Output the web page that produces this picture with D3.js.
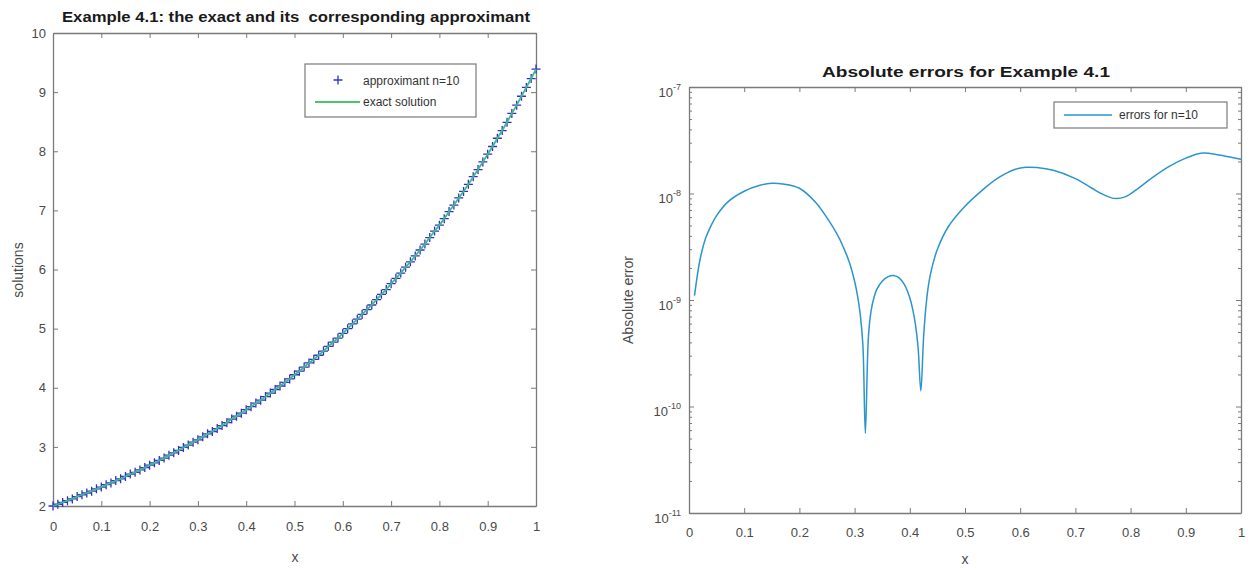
<!DOCTYPE html>
<html>
<head>
<meta charset="utf-8">
<script src="https://cdn.jsdelivr.net/npm/d3@7"></script>
<style>
body { margin: 0; background: #fff; }
svg { font-family: "Liberation Sans", Arial, sans-serif; }
.tick text { fill: #4a4a4a; font-size: 13px; }
.tick line { stroke: #7a7a7a; }
.domain { stroke: #7a7a7a; stroke-width: 1.3; }
.title { font-weight: bold; font-size: 14px; fill: #1a1a1a; white-space: pre; }
.alabel { fill: #4a4a4a; font-size: 14px; }
.leg { fill: #333; font-size: 12px; }
</style>
</head>
<body>
<svg id="chart" width="1252" height="570"></svg>
<script>
// ---- data ----
// left panel: x grid and solution values (approximant and exact coincide)
const solX = [0,0.01,0.02,0.03,0.04,0.05,0.06,0.07,0.08,0.09,0.1,0.11,0.12,0.13,0.14,0.15,0.16,0.17,0.18,0.19,
  0.2,0.21,0.22,0.23,0.24,0.25,0.26,0.27,0.28,0.29,0.3,0.31,0.32,0.33,0.34,0.35,0.36,0.37,0.38,0.39,
  0.4,0.41,0.42,0.43,0.44,0.45,0.46,0.47,0.48,0.49,0.5,0.51,0.52,0.53,0.54,0.55,0.56,0.57,0.58,0.59,
  0.6,0.61,0.62,0.63,0.64,0.65,0.66,0.67,0.68,0.69,0.7,0.71,0.72,0.73,0.74,0.75,0.76,0.77,0.78,0.79,
  0.8,0.81,0.82,0.83,0.84,0.85,0.86,0.87,0.88,0.89,0.9,0.91,0.92,0.93,0.94,0.95,0.96,0.97,0.98,0.99,1];
const solY = [2.00,2.03,2.06,2.09,2.12,2.16,2.19,2.22,2.25,2.29,2.32,2.36,2.39,2.43,2.46,2.50,2.54,2.57,2.61,2.65,
  2.69,2.73,2.77,2.81,2.86,2.90,2.94,2.99,3.03,3.08,3.12,3.17,3.22,3.26,3.31,3.36,3.41,3.47,3.52,3.57,
  3.63,3.68,3.74,3.79,3.85,3.91,3.97,4.03,4.09,4.15,4.22,4.28,4.35,4.42,4.48,4.55,4.62,4.70,4.77,4.84,
  4.92,5.00,5.08,5.16,5.24,5.32,5.40,5.49,5.58,5.66,5.76,5.85,5.94,6.04,6.13,6.23,6.33,6.43,6.54,6.65,
  6.75,6.86,6.98,7.09,7.21,7.32,7.44,7.57,7.69,7.82,7.95,8.08,8.22,8.35,8.49,8.64,8.78,8.93,9.08,9.23,9.39];

// right panel: absolute errors for n=10
const errX = [0.01,0.02,0.03,0.04,0.05,0.07,0.10,0.13,0.15,0.17,0.20,0.23,0.25,0.27,0.28,0.29,0.30,0.305,0.31,0.315,
  0.3195,0.325,0.33,0.335,0.34,0.35,0.36,0.37,0.38,0.39,0.40,0.405,0.41,0.415,0.42,0.425,0.43,0.435,0.44,0.45,
  0.47,0.50,0.53,0.56,0.59,0.61,0.63,0.66,0.70,0.73,0.75,0.77,0.79,0.81,0.84,0.87,0.90,0.93,0.96,0.98,1.00];
const errY = [1.1e-9,2.4e-9,3.8e-9,5.0e-9,6.2e-9,8.3e-9,1.05e-8,1.2e-8,1.25e-8,1.23e-8,1.12e-8,8.2e-9,5.9e-9,4.0e-9,3.1e-9,2.3e-9,1.5e-9,1.12e-9,7.5e-10,3.8e-10,
  5.6e-11,4.5e-10,8.0e-10,1.05e-9,1.25e-9,1.5e-9,1.65e-9,1.7e-9,1.62e-9,1.4e-9,1.05e-9,8.3e-10,6.0e-10,3.6e-10,1.4e-10,4.5e-10,9.5e-10,1.5e-9,2.0e-9,3.0e-9,
  4.9e-9,7.6e-9,1.06e-8,1.4e-8,1.68e-8,1.76e-8,1.75e-8,1.65e-8,1.38e-8,1.12e-8,9.8e-9,9.0e-9,9.3e-9,1.08e-8,1.42e-8,1.8e-8,2.15e-8,2.4e-8,2.3e-8,2.2e-8,2.1e-8];

// tick labels
const xTicks = [0,0.1,0.2,0.3,0.4,0.5,0.6,0.7,0.8,0.9,1];
const solTicks = [2,3,4,5,6,7,8,9,10];
const errTicks = [1e-11,1e-10,1e-9,1e-8,1e-7];

const svg = d3.select("#chart");

// ================= left panel =================
const xL = d3.scaleLinear().domain([0, 1]).range([53, 536]);
const yL = d3.scaleLinear().domain([2, 10]).range([506, 33]);

const gL = svg.append("g");

gL.append("g")
    .attr("transform", `translate(0,${yL(2)})`)
    .call(d3.axisBottom(xL).tickValues(xTicks).tickFormat(d => d)
        .tickSizeInner(-5).tickSizeOuter(0).tickPadding(16));
gL.append("g")
    .attr("transform", `translate(0,${yL(10)})`)
    .call(d3.axisTop(xL).tickValues(xTicks).tickFormat("")
        .tickSizeInner(-5).tickSizeOuter(0));
gL.append("g")
    .attr("transform", `translate(${xL(0)},0)`)
    .call(d3.axisLeft(yL).tickValues(solTicks)
        .tickSizeInner(-5).tickSizeOuter(0).tickPadding(7));
gL.append("g")
    .attr("transform", `translate(${xL(1)},0)`)
    .call(d3.axisRight(yL).tickValues(solTicks).tickFormat("")
        .tickSizeInner(-5).tickSizeOuter(0));

const sol = solX.map((x, i) => ({x: x, y: solY[i]}));

// approximant markers
gL.append("g").selectAll("path")
    .data(sol)
    .join("path")
    .attr("transform", d => `translate(${xL(d.x)},${yL(d.y)})`)
    .attr("d", "M-4.5,0H4.5M0,-4.5V4.5")
    .attr("stroke", "#3030c4")
    .attr("stroke-width", 1.3)
    .attr("fill", "none");

// exact solution line
gL.append("path")
    .datum(sol)
    .attr("fill", "none")
    .attr("stroke", "#3fb98a")
    .attr("stroke-width", 1.8)
    .attr("d", d3.line().x(d => xL(d.x)).y(d => yL(d.y)));

gL.append("text")
    .attr("class", "title")
    .attr("x", 296).attr("y", 22)
    .attr("text-anchor", "middle")
    .attr("textLength", 468)
    .attr("lengthAdjust", "spacingAndGlyphs")
    .text("Example 4.1: the exact and its  corresponding approximant");

gL.append("text")
    .attr("class", "alabel")
    .attr("text-anchor", "middle")
    .attr("transform", "translate(23,270) rotate(-90)")
    .text("solutions");

gL.append("text")
    .attr("class", "alabel")
    .attr("x", 295).attr("y", 562)
    .attr("text-anchor", "middle")
    .text("x");

// legend
const legL = gL.append("g");
legL.append("rect")
    .attr("x", 305).attr("y", 64).attr("width", 171).attr("height", 53)
    .attr("fill", "#fff").attr("stroke", "#7a7a7a").attr("stroke-width", 1.2);
legL.append("path")
    .attr("transform", "translate(338,80)")
    .attr("d", "M-4.5,0H4.5M0,-4.5V4.5")
    .attr("stroke", "#3030c4").attr("stroke-width", 1.3);
legL.append("text").attr("class", "leg").attr("x", 363).attr("y", 85).text("approximant n=10");
legL.append("line")
    .attr("x1", 315).attr("x2", 360).attr("y1", 102).attr("y2", 102)
    .attr("stroke", "#4fc46a").attr("stroke-width", 2);
legL.append("text").attr("class", "leg").attr("x", 363).attr("y", 106).text("exact solution");

// ================= right panel =================
const xR = d3.scaleLinear().domain([0, 1]).range([689, 1241]);
const yR = d3.scaleLog().domain([1e-11, 1e-7]).range([513, 87]);

const gR = svg.append("g");

gR.append("g")
    .attr("transform", `translate(0,${yR(1e-11)})`)
    .call(d3.axisBottom(xR).tickValues(xTicks).tickFormat(d => d)
        .tickSizeInner(-5).tickSizeOuter(0).tickPadding(15));
gR.append("g")
    .attr("transform", `translate(0,${yR(1e-7)})`)
    .call(d3.axisTop(xR).tickValues(xTicks).tickFormat("")
        .tickSizeInner(-5).tickSizeOuter(0));

const yAxisR = gR.append("g")
    .attr("transform", `translate(${xR(0)},0)`)
    .call(d3.axisLeft(yR).tickValues(errTicks).tickFormat(() => "")
        .tickSizeInner(-5).tickSizeOuter(0).tickPadding(8));
// 10^n labels with superscript
yAxisR.selectAll(".tick text")
    .attr("dy", "0.72em")
    .each(function(d) {
        const t = d3.select(this);
        t.append("tspan").text("10");
        t.append("tspan").attr("dy", -7).attr("font-size", "9px")
            .text("-" + Math.round(-Math.log10(d)));
    });

gR.append("g")
    .attr("transform", `translate(${xR(1)},0)`)
    .call(d3.axisRight(yR).tickValues(errTicks).tickFormat("")
        .tickSizeInner(-5).tickSizeOuter(0));

// minor ticks on the log axis
const minor = yR.ticks().filter(v => Math.abs(Math.log10(v) - Math.round(Math.log10(v))) > 1e-6);
gR.append("g")
    .attr("transform", `translate(${xR(0)},0)`)
    .call(d3.axisLeft(yR).tickValues(minor).tickFormat("").tickSizeInner(-3).tickSizeOuter(0))
    .call(g => g.select(".domain").remove());
gR.append("g")
    .attr("transform", `translate(${xR(1)},0)`)
    .call(d3.axisRight(yR).tickValues(minor).tickFormat("").tickSizeInner(-3).tickSizeOuter(0))
    .call(g => g.select(".domain").remove());

const err = errX.map((x, i) => ({x: x, y: errY[i]}));

gR.append("path")
    .datum(err)
    .attr("fill", "none")
    .attr("stroke", "#2b95cd")
    .attr("stroke-width", 1.5)
    .attr("stroke-linejoin", "round")
    .attr("d", d3.line().curve(d3.curveCatmullRom.alpha(0.5)).x(d => xR(d.x)).y(d => yR(d.y)));

gR.append("text")
    .attr("class", "title")
    .attr("x", 966).attr("y", 77)
    .attr("text-anchor", "middle")
    .attr("textLength", 288)
    .attr("lengthAdjust", "spacingAndGlyphs")
    .text("Absolute errors for Example 4.1");

gR.append("text")
    .attr("class", "alabel")
    .attr("text-anchor", "middle")
    .attr("transform", "translate(633,300) rotate(-90)")
    .text("Absolute error");

gR.append("text")
    .attr("class", "alabel")
    .attr("x", 965).attr("y", 564)
    .attr("text-anchor", "middle")
    .text("x");

// legend
const legR = gR.append("g");
legR.append("rect")
    .attr("x", 1054).attr("y", 102).attr("width", 173).attr("height", 26)
    .attr("fill", "#fff").attr("stroke", "#7a7a7a").attr("stroke-width", 1.2);
legR.append("line")
    .attr("x1", 1064).attr("x2", 1112).attr("y1", 115).attr("y2", 115)
    .attr("stroke", "#2b95cd").attr("stroke-width", 1.5);
legR.append("text").attr("class", "leg").attr("x", 1119).attr("y", 119).text("errors for n=10");
</script>
</body>
</html>
